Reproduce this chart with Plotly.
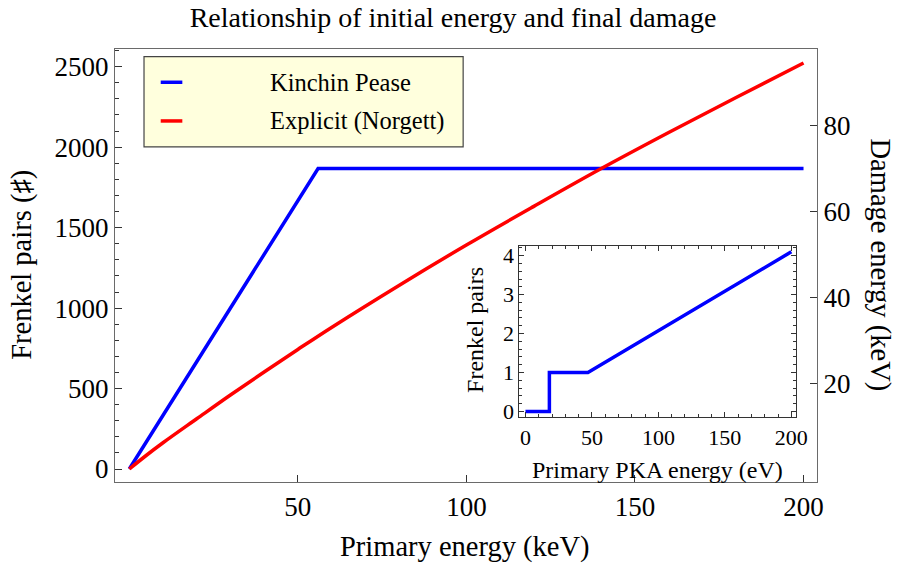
import plotly.graph_objects as go

# Main panel: Frenkel pairs vs. primary energy (keV)
kp_energy = [0, 56, 200]
kp_pairs = [0, 1867, 1867]

nrt_energy = [0, 5, 10, 20, 30, 40, 50, 60, 80, 100, 120, 140, 160, 180, 200]
nrt_pairs = [0, 84, 163, 312, 460, 603, 743, 880, 1141, 1392, 1632, 1867, 2091, 2309, 2523]

# Inset: low-energy Kinchin-Pease behaviour (eV)
inset_energy = [0, 18, 18, 47, 200]
inset_pairs = [0, 0, 1, 1, 4.1]

x_ticks = [50, 100, 150, 200]
y_ticks = [0, 500, 1000, 1500, 2000, 2500]
y2_ticks = [20, 40, 60, 80]
inset_x_ticks = [0, 50, 100, 150, 200]
inset_y_ticks = [0, 1, 2, 3, 4]

legend_names = ["Kinchin Pease", "Explicit (Norgett)"]
BLUE = "rgb(0,0,255)"
RED = "rgb(255,0,0)"
FONT = "Liberation Serif"
FRAME = "#6a6a6a"
TICK = "#333333"

# plot area in pixels
L, R, T, B = 115, 816.7, 49, 482.3
W, H = R - L, B - T


def px(x):
    return (x - L) / W


def py(y):
    return (B - y) / H


fig = go.Figure()
fig.add_trace(go.Scatter(x=kp_energy, y=kp_pairs, mode="lines",
                         line=dict(color=BLUE, width=3.5), showlegend=False))
fig.add_trace(go.Scatter(x=nrt_energy, y=nrt_pairs, mode="lines",
                         line=dict(color=RED, width=3.5), line_shape="spline",
                         showlegend=False))
# carrier for the damage-energy axis
fig.add_trace(go.Scatter(x=[None], y=[None], yaxis="y2", showlegend=False,
                         hoverinfo="skip"))
fig.add_trace(go.Scatter(x=inset_energy, y=inset_pairs, mode="lines",
                         xaxis="x3", yaxis="y3",
                         line=dict(color=BLUE, width=3.5), showlegend=False))

tickfont = dict(family=FONT, size=27, color="black")
inset_font = dict(family=FONT, size=22, color="black")

fig.update_layout(
    width=897, height=563,
    margin=dict(l=L, r=897 - R, t=T, b=563 - B),
    paper_bgcolor="white", plot_bgcolor="white",
    title=dict(text="Relationship of initial energy and final damage",
               x=0.505, xanchor="center", y=1 - 17 / 563, yanchor="middle",
               font=dict(family=FONT, size=28, color="black")),
    xaxis=dict(range=[-4.24, 204], tickvals=x_ticks, ticks="inside",
               ticklen=7, tickcolor=TICK, showline=True, linecolor=FRAME,
               linewidth=1.3, mirror=True, showgrid=False, zeroline=False,
               tickfont=tickfont),
    yaxis=dict(range=[-80.7, 2610], tickvals=y_ticks, ticks="inside",
               ticklen=7, tickcolor=TICK, showline=True, linecolor=FRAME,
               linewidth=1.3, showgrid=False, zeroline=False,
               tickfont=tickfont,
               minor=dict(dtick=100, ticks="inside", ticklen=4,
                          tickcolor=TICK, showgrid=False)),
    yaxis2=dict(range=[-3.03, 97.9], tickvals=y2_ticks, overlaying="y",
                side="right", ticks="inside", ticklen=7, tickcolor=TICK,
                showline=True, linecolor=FRAME, linewidth=1.3,
                showgrid=False, zeroline=False, tickfont=tickfont),
    xaxis3=dict(domain=[px(519.3), px(795.7)], anchor="y3",
                range=[-4.5, 203.5], tickvals=inset_x_ticks, ticks="inside",
                ticklen=5, tickcolor=TICK, showline=True, linecolor=TICK,
                linewidth=1, mirror="ticks", showgrid=False, zeroline=False,
                tickfont=inset_font,
                minor=dict(dtick=10, ticks="inside", ticklen=3,
                           tickcolor=TICK, showgrid=False)),
    yaxis3=dict(domain=[py(417.7), py(245.7)], anchor="x3",
                range=[-0.154, 4.26], tickvals=inset_y_ticks, ticks="inside",
                ticklen=5, tickcolor=TICK, showline=True, linecolor=TICK,
                linewidth=1, mirror="ticks", showgrid=False, zeroline=False,
                tickfont=inset_font,
                minor=dict(dtick=0.2, ticks="inside", ticklen=3,
                           tickcolor=TICK, showgrid=False)),
)

ann_font = dict(family=FONT, size=28.5, color="black")
annotations = [
    dict(text="Primary energy (keV)", x=px(465), y=py(547), textangle=0),
    dict(text="Frenkel pairs (♯)", x=px(22), y=py(265), textangle=-90),
    dict(text="Damage energy (keV)", x=px(880), y=py(265), textangle=90),
]
for a in annotations:
    fig.add_annotation(xref="paper", yref="paper", showarrow=False,
                       xanchor="center", yanchor="middle", font=ann_font, **a)

inset_title_font = dict(family=FONT, size=24, color="black")
fig.add_annotation(text="Frenkel pairs", x=px(475), y=py(330), textangle=-90,
                   xref="paper", yref="paper", showarrow=False,
                   xanchor="center", yanchor="middle", font=inset_title_font)
fig.add_annotation(text="Primary PKA energy (eV)", x=px(657), y=py(470),
                   xref="paper", yref="paper", showarrow=False,
                   xanchor="center", yanchor="middle", font=inset_title_font)

# legend box
fig.add_shape(type="rect", xref="paper", yref="paper",
              x0=px(144), x1=px(463), y0=py(147), y1=py(56.7),
              fillcolor="rgb(255,255,221)", line=dict(color="#444444", width=1.2))
legend_rows = [82.3, 121]
for name, color, row in zip(legend_names, [BLUE, RED], legend_rows):
    fig.add_shape(type="line", xref="paper", yref="paper",
                  x0=px(160.7), x1=px(182.3), y0=py(row), y1=py(row),
                  line=dict(color=color, width=3.5))
    fig.add_annotation(text=name, x=px(268), y=py(row), xref="paper",
                       yref="paper", showarrow=False, xanchor="left",
                       yanchor="middle",
                       font=dict(family=FONT, size=24.5, color="black"))

fig.write_html("out.html")
